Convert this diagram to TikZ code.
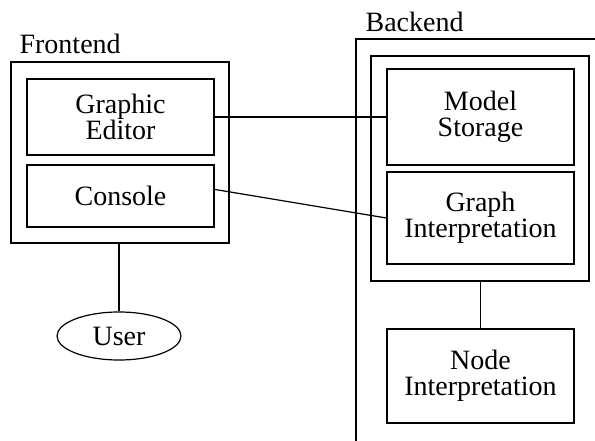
\documentclass[tikz,border=0pt]{standalone}
\usepackage{fontspec}
\setmainfont{Liberation Serif}
\usetikzlibrary{shapes.geometric}

\begin{document}
\begin{tikzpicture}[x=1pt, y=-1pt, line width=1.2pt,
    every node/.style={font=\fontsize{28}{26}\selectfont, align=center, inner sep=0pt},
    part/.style={draw, minimum width=187pt},
    group/.style={draw, minimum width=218pt}]
  \useasboundingbox (0,0) rectangle (595,441);

  % frontend side
  \node[group, minimum height=181pt] (fe) at (120,152.5) {};
  \node[anchor=base west] (fetitle) at (19,54) {Frontend};
  \node[part, minimum height=76pt] (ge) at (120.5,117) {Graphic\\Editor};
  \node[part, minimum height=62pt] (con) at (120.5,196) {Console};
  \node[draw, ellipse, minimum width=124pt, minimum height=48pt] (user) at (119,336) {User};

  % backend side, cut off at the page edge
  \draw (356,441) -- (356,39) -- (600,39);
  \node[anchor=base west] (betitle) at (365,32) {Backend};
  \node[group, minimum height=225pt] (core) at (480,168.5) {};
  \node[part, minimum height=96pt] (ms) at (480.5,117) {Model\\Storage};
  \node[part, minimum height=92pt] (gi) at (480.5,218) {Graph\\Interpretation};
  \node[part, minimum height=94pt] (ni) at (480.5,376) {Node\\Interpretation};

  \draw (ge.east) -- (ms.west);
  \draw (con.4) -- (gi.west);
  \draw (fe.south -| user.north) -- (user.north);
  \draw (core.south -| ni.north) -- (ni.north);
\end{tikzpicture}
\end{document}
